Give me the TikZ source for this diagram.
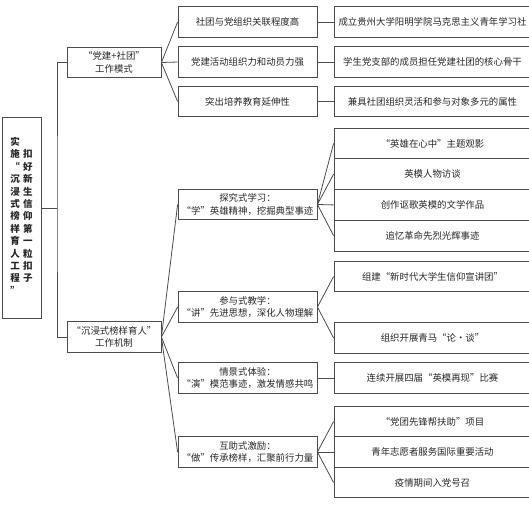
\documentclass[tikz,border=0pt]{standalone}
\usepackage{fontspec}
\setmainfont{Noto Sans CJK SC}
\usetikzlibrary{positioning}

\begin{document}
\begin{tikzpicture}[
			x=1pt, y=-1pt,
			color=black!70,
			line width=0.8pt,
			every node/.style={
				draw,
				rectangle,
				align=center,
				text=black!85,
				font=\fontsize{9.4}{12.5}\selectfont,
				minimum height=30.5pt,
				inner sep=1pt
			},
			rootbox/.style={minimum width=39pt, minimum height=201pt,
				font=\fontsize{9.5}{12.4}\selectfont\bfseries},
			modebox/.style={minimum width=94pt},
			waybox/.style={minimum width=139pt},
			itembox/.style={minimum width=197pt}
			]
			\useasboundingbox (0,0) rectangle (529,507);
			\clip (0,0) rectangle (529,507);
			
			% Root: vertical title
			\node[rootbox] (root) at (21.5,217.5) {\begin{tabular}{@{}c@{\hspace{3.5pt}}c@{}}
					实&\\施&扣\\“&好\\沉&新\\浸&生\\式&信\\榜&仰\\样&第\\育&一\\人&粒\\工&扣\\程&子\\”&
				\end{tabular}};
			
			% First level: the two working parts
			\node[modebox] (club) at (114,62.5) {“党建+社团”\\工作模式};
			\node[modebox] (model) at (114,337) {“沉浸式榜样育人”\\工作机制};
			
			% Second level under the club mode
			\node[waybox] (link) at (247.5,22) {社团与党组织关联程度高};
			\node[waybox] (force) at (247.5,62) {党建活动组织力和动员力强};
			\node[waybox] (extend) at (247.5,101.5) {突出培养教育延伸性};
			
			% Second level under the model mechanism
			\node[waybox] (learn) at (247.5,204.5) {探究式学习：\\“学”英雄精神，挖掘典型事迹};
			\node[waybox] (teach) at (247.5,307) {参与式教学：\\“讲”先进思想，深化人物理解};
			\node[waybox] (act) at (247.5,378) {情景式体验：\\“演”模范事迹，激发情感共鸣};
			\node[waybox] (help) at (247.5,452) {互助式激励：\\“做”传承榜样，汇聚前行力量};
			
			% Third level: items
			\node[itembox] (link1) at (432.5,22) {成立贵州大学阳明学院马克思主义青年学习社};
			\node[itembox] (force1) at (432.5,62) {学生党支部的成员担任党建社团的核心骨干};
			\node[itembox] (extend1) at (432.5,101.5) {兼具社团组织灵活和参与对象多元的属性};
			
			\node[itembox, minimum height=30.75pt] (learn1) at (432.5,143.4) {“英雄在心中”主题观影};
			\node[itembox, minimum height=30.75pt] (learn2) at (432.5,174.1) {英模人物访谈};
			\node[itembox, minimum height=30.75pt] (learn3) at (432.5,204.9) {创作讴歌英模的文学作品};
			\node[itembox, minimum height=30.75pt] (learn4) at (432.5,235.6) {追忆革命先烈光辉事迹};
			
			\node[itembox] (teach1) at (432.5,276.5) {组建“新时代大学生信仰宣讲团”};
			\node[itembox] (teach2) at (432.5,338) {组织开展青马“论·谈”};
			
			\node[itembox] (act1) at (432.5,378) {连续开展四届“英模再现”比赛};
			
			\node[itembox] (help1) at (432.5,421.5) {“党团先锋帮扶助”项目};
			\node[itembox] (help2) at (432.5,452) {青年志愿者服务国际重要活动};
			\node[itembox] (help3) at (432.5,482.5) {疫情期间入党号召};
			
			% Trunk from the root
			\coordinate (trunk) at (57,208);
			\draw (root.east |- trunk)--(trunk);
			\draw (club.west) -| (trunk) |- (model.west);
			
			% Edges from first to second level
			\draw (club.east)--(link.west);
			\draw (club.east)--(force.west);
			\draw (club.east)--(extend.west);
			
			\draw (model.east)--(learn.west);
			\draw (model.east)--(teach.west);
			\draw (model.east)--(act.west);
			\draw (model.east)--(help.west);
			
			% Edges from second to third level
			\draw (link)--(link1);
			\draw (force)--(force1);
			\draw (extend)--(extend1);
			
			\draw (learn.east)--(learn1.west);
			\draw (learn.east)--(learn2.west);
			\draw (learn.east)--(learn3.west);
			\draw (learn.east)--(learn4.west);
			
			\draw (teach.east)--(teach1.west);
			\draw (teach.east)--(teach2.west);
			
			\draw (act)--(act1);
			
			\draw (help.east)--(help1.west);
			\draw (help.east)--(help2.west);
			\draw (help.east)--(help3.west);
			
		\end{tikzpicture}
\end{document}
